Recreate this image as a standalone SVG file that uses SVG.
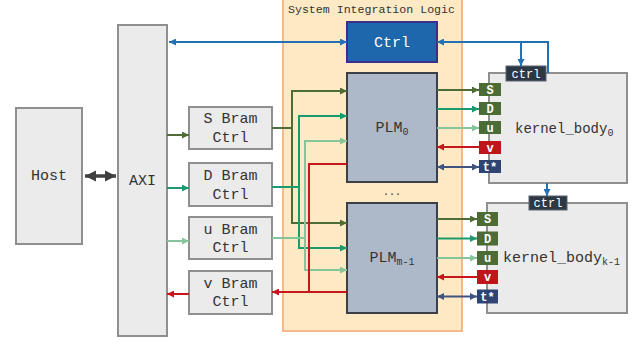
<svg xmlns="http://www.w3.org/2000/svg" width="639" height="345" viewBox="0 0 639 345">
<style>
.box{fill:#ebebeb;stroke:#8f8f8f;stroke-width:2}
.plm{fill:#adb9c9;stroke:#3b4048;stroke-width:2}
.t{font-family:"Courier New","Liberation Mono",monospace;fill:#333;text-anchor:middle}
.tw{font-family:"Courier New","Liberation Mono",monospace;fill:#fff;text-anchor:middle}
.tg{font-weight:bold;font-size:12px}
.c{fill:none;stroke-width:2}
.cs{stroke:#4e6d36}.cd{stroke:#1b9b6d}.cu{stroke:#86c59a}.cv{stroke:#c8161d}.ct{stroke:#3d5580}.cb{stroke:#2370b5}
.gs{fill:#4d6b35}.gv{fill:#c0161b}.gt{fill:#2e4574}.gc{fill:#2c3844;stroke:#5a6470;stroke-width:1}
</style>
<defs>
<marker id="ms" viewBox="0 0 10 10" refX="10" refY="5" markerWidth="7" markerHeight="7" markerUnits="userSpaceOnUse" orient="auto-start-reverse"><path d="M0,0L10,5L0,10z" fill="#4e6d36"/></marker>
<marker id="md" viewBox="0 0 10 10" refX="10" refY="5" markerWidth="7" markerHeight="7" markerUnits="userSpaceOnUse" orient="auto-start-reverse"><path d="M0,0L10,5L0,10z" fill="#1b9b6d"/></marker>
<marker id="mu" viewBox="0 0 10 10" refX="10" refY="5" markerWidth="7" markerHeight="7" markerUnits="userSpaceOnUse" orient="auto-start-reverse"><path d="M0,0L10,5L0,10z" fill="#86c59a"/></marker>
<marker id="mv" viewBox="0 0 10 10" refX="10" refY="5" markerWidth="7" markerHeight="7" markerUnits="userSpaceOnUse" orient="auto-start-reverse"><path d="M0,0L10,5L0,10z" fill="#c8161d"/></marker>
<marker id="mt" viewBox="0 0 10 10" refX="10" refY="5" markerWidth="7" markerHeight="7" markerUnits="userSpaceOnUse" orient="auto-start-reverse"><path d="M0,0L10,5L0,10z" fill="#3d5580"/></marker>
<marker id="mb" viewBox="0 0 10 10" refX="10" refY="5" markerWidth="7" markerHeight="7" markerUnits="userSpaceOnUse" orient="auto-start-reverse"><path d="M0,0L10,5L0,10z" fill="#2370b5"/></marker>
<marker id="mh" viewBox="0 0 10 10" refX="10" refY="5" markerWidth="11" markerHeight="12" markerUnits="userSpaceOnUse" orient="auto-start-reverse"><path d="M0,0L10,5L0,10z" fill="#404040"/></marker>
</defs>

<g id="sil"><rect x="283" y="-2" width="179" height="333" fill="#fde9c4" stroke="#f4b98a" stroke-width="2"/>
<text x="288" y="13" font-family="Courier New,Liberation Mono,monospace" font-size="11.6" fill="#333">System Integration Logic</text></g>

<g id="host"><rect class="box" x="16" y="108" width="66" height="136"/><text class="t" x="49" y="180" font-size="15">Host</text></g>
<g id="axi"><rect class="box" x="118" y="25" width="49" height="311"/><text class="t" x="142.5" y="185" font-size="15">AXI</text></g>

<g id="sbram"><rect class="box" x="189" y="107" width="83" height="42"/><text class="t" x="230.5" y="123" font-size="15">S Bram</text><text class="t" x="230.5" y="142" font-size="15">Ctrl</text></g>
<g id="dbram"><rect class="box" x="189" y="163" width="83" height="43"/><text class="t" x="230.5" y="180" font-size="15">D Bram</text><text class="t" x="230.5" y="198.5" font-size="15">Ctrl</text></g>
<g id="ubram"><rect class="box" x="189" y="217" width="83" height="42"/><text class="t" x="230.5" y="233.5" font-size="15">u Bram</text><text class="t" x="230.5" y="252" font-size="15">Ctrl</text></g>
<g id="vbram"><rect class="box" x="189" y="271" width="83" height="43"/><text class="t" x="230.5" y="287.5" font-size="15">v Bram</text><text class="t" x="230.5" y="306" font-size="15">Ctrl</text></g>

<g id="ctrl"><rect x="347" y="22" width="90" height="40" fill="#1e67ad" stroke="#3a2f8f" stroke-width="2"/><text class="t" x="392" y="47" font-size="15" style="fill:#fff">Ctrl</text></g>

<g id="plm0"><rect class="plm" x="347" y="73" width="90" height="109"/><text class="t" x="392" y="132" font-size="15">PLM<tspan font-size="10" dy="3">0</tspan></text></g>
<g id="dots"><text class="t" x="392" y="195" font-size="10">...</text></g>
<g id="plm1"><rect class="plm" x="347" y="203" width="90" height="110"/><text class="t" x="392" y="262" font-size="15">PLM<tspan font-size="10" dy="3">m-1</tspan></text></g>

<g id="kernel0"><rect class="box" x="489" y="73" width="138" height="110"/><text x="515" y="133" font-family="Courier New,Liberation Mono,monospace" font-size="14" fill="#333">kernel_body<tspan font-size="10" dy="3">0</tspan></text>
<rect class="gc" x="506" y="66" width="40" height="15"/><text class="tw" x="526" y="77.5" font-size="12">ctrl</text>
<rect class="gs" x="479" y="83" width="22" height="13"/><text class="tw tg" x="490" y="93.5">S</text>
<rect class="gs" x="479" y="102" width="22" height="13"/><text class="tw tg" x="490" y="112.5">D</text>
<rect class="gs" x="479" y="121" width="22" height="13"/><text class="tw tg" x="490" y="131.5">u</text>
<rect class="gv" x="479" y="141" width="22" height="13"/><text class="tw tg" x="490" y="151.5">v</text>
<rect class="gt" x="479" y="160" width="22" height="13"/><text class="tw tg" x="490" y="170.5">t*</text></g>

<g id="kernel1"><rect class="box" x="487" y="203" width="140" height="110"/><text x="503" y="262" font-family="Courier New,Liberation Mono,monospace" font-size="15" fill="#333">kernel_body<tspan font-size="10" dy="3">k-1</tspan></text>
<rect class="gc" x="529" y="196" width="38" height="14"/><text class="tw" x="548" y="207" font-size="12">ctrl</text>
<rect class="gs" x="477" y="212" width="21" height="14"/><text class="tw tg" x="487.5" y="223">S</text>
<rect class="gs" x="477" y="231.5" width="21" height="14"/><text class="tw tg" x="487.5" y="242.5">D</text>
<rect class="gs" x="477" y="251" width="21" height="14"/><text class="tw tg" x="487.5" y="262">u</text>
<rect class="gv" x="477" y="270" width="21" height="14"/><text class="tw tg" x="487.5" y="281">v</text>
<rect class="gt" x="477" y="289.5" width="21" height="14"/><text class="tw tg" x="487.5" y="300.5">t*</text></g>

<g id="connectors">
<path d="M85,176H116" stroke="#404040" stroke-width="3.5" fill="none" marker-start="url(#mh)" marker-end="url(#mh)"/>
<path class="c cb" d="M169,42H347" marker-start="url(#mb)" marker-end="url(#mb)"/>
<path class="c cb" d="M548,73V42H437" marker-end="url(#mb)"/>
<path class="c cb" d="M521,42V66" marker-end="url(#mb)"/>
<path class="c cb" d="M547,183V196" marker-end="url(#mb)"/>

<path class="c cs" d="M167,135H189" marker-end="url(#ms)"/>
<path class="c cd" d="M167,188H189" marker-end="url(#md)"/>
<path class="c cu" d="M167,241H189" marker-end="url(#mu)"/>
<path class="c cv" d="M189,294H167" marker-end="url(#mv)"/>

<path class="c cs" d="M272,128H292V91H347" marker-end="url(#ms)"/>
<path class="c cs" d="M292,128V223H347" marker-end="url(#ms)"/>
<path class="c cd" d="M272,187H299V116H347" marker-end="url(#md)"/>
<path class="c cd" d="M299,187V248H347" marker-end="url(#md)"/>
<path class="c cu" d="M272,238H305V141H347" marker-end="url(#mu)"/>
<path class="c cu" d="M305,238V270H347" marker-end="url(#mu)"/>
<path class="c cv" d="M347,164H309V292"/>
<path class="c cv" d="M347,292H272" marker-end="url(#mv)"/>

<path class="c cs" d="M437,90H479" marker-end="url(#ms)"/>
<path class="c cd" d="M437,109H479" marker-end="url(#md)"/>
<path class="c cu" d="M437,128H479" marker-end="url(#mu)"/>
<path class="c cv" d="M479,147H437" marker-end="url(#mv)"/>
<path class="c ct" d="M437,167H479" marker-start="url(#mt)" marker-end="url(#mt)"/>

<path class="c cs" d="M437,219H477" marker-end="url(#ms)"/>
<path class="c cd" d="M437,238.5H477" marker-end="url(#md)"/>
<path class="c cu" d="M437,258H477" marker-end="url(#mu)"/>
<path class="c cv" d="M477,277H437" marker-end="url(#mv)"/>
<path class="c ct" d="M437,296.5H477" marker-start="url(#mt)" marker-end="url(#mt)"/>
</g>
</svg>
